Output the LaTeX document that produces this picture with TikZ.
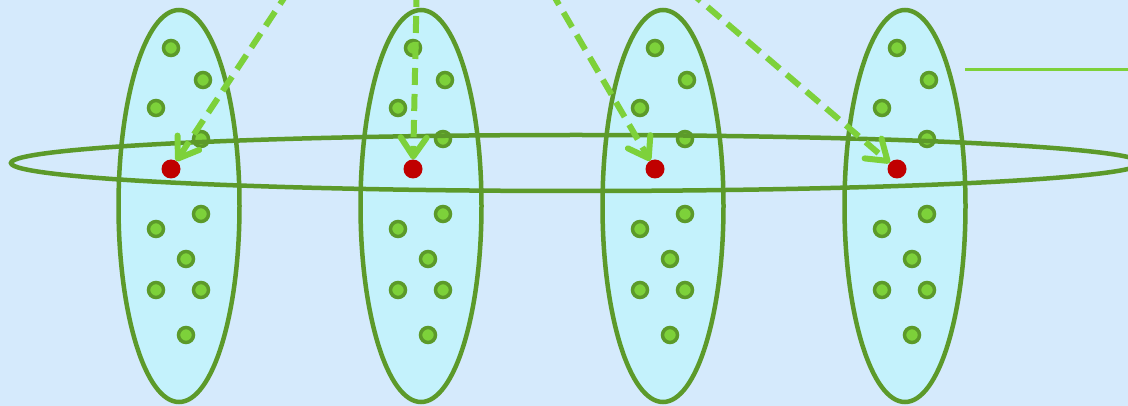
\documentclass[tikz,border=0pt]{standalone}
\usetikzlibrary{shapes.geometric,arrows.meta}
\definecolor{bgc}{HTML}{D5EAFC}
\definecolor{ellfill}{HTML}{C4F2FC}
\definecolor{dkgreen}{HTML}{5C9A2A}
\definecolor{ltgreen}{HTML}{7DD13A}
\definecolor{redc}{HTML}{C00000}
\begin{document}
\begin{tikzpicture}[x=1pt,y=-1pt,
  vell/.style={ellipse,draw=dkgreen,fill=ellfill,line width=4.5pt,minimum width=121pt,minimum height=392pt,inner sep=0pt,outer sep=0pt},
  hell/.style={ellipse,draw=dkgreen,line width=4.5pt,minimum width=1130pt,minimum height=56pt,inner sep=0pt,outer sep=0pt},
  gdot/.style={circle,draw=dkgreen,fill=ltgreen,line width=3.5pt,minimum size=15pt,inner sep=0pt,outer sep=0pt},
  rdot/.style={circle,fill=redc,minimum size=19pt,inner sep=0pt,outer sep=0pt},
  darrow/.style={draw=ltgreen,line width=6pt,dash pattern=on 17pt off 9pt,-{Straight Barb[length=19pt,width=26pt,line width=6pt,round]}},
  hline/.style={draw=ltgreen,line width=3pt}]
\useasboundingbox (0,0) rectangle (1128,406);
\fill[bgc] (0,0) rectangle (1128,406);
\foreach \i/\cx in {1/179,2/421,3/663,4/905} {
  \node[vell] (E\i) at (\cx,206) {};
  \foreach \j/\dx/\dy in {a/-8/48, b/24/80, c/-23/108, d/22/139, e/-23/229, f/22/214, g/7/259, h/-23/290, k/22/290, l/7/335}
    \node[gdot] (d\i\j) at ({\cx+\dx},\dy) {};
}
\node[hell] (H) at (576,163) {};
\node[rdot] (r1) at (171,169) {};
\node[rdot] (r2) at (413,169) {};
\node[rdot] (r3) at (655,169) {};
\node[rdot] (r4) at (897,169) {};
\coordinate (s1) at (289.4,-10);
\coordinate (s2) at (416.7,-10);
\coordinate (s3) at (550.4,-10);
\coordinate (s4) at (687.8,-10);
\draw[darrow] (s1) -- (r1);
\draw[darrow] (s2) -- (r2);
\draw[darrow] (s3) -- (r3);
\draw[darrow] (s4) -- (r4);
\coordinate (l1) at (965,70);
\coordinate (l2) at (1130,70);
\draw[hline] (l1) -- (l2);
\end{tikzpicture}
\end{document}
